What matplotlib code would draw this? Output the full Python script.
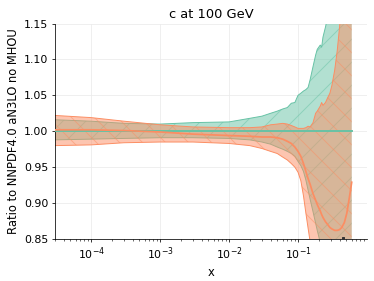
import numpy as np
import matplotlib.pyplot as plt

# x grid and ratio values
xgrid = [3e-5, 1e-4, 3e-4, 1e-3, 3e-3, 1e-2, 0.02, 0.03, 0.04, 0.05,
         0.06, 0.07, 0.08, 0.09, 0.1, 0.11, 0.12, 0.13, 0.14, 0.15,
         0.165, 0.18, 0.19, 0.21, 0.22, 0.23, 0.25, 0.27, 0.29, 0.31,
         0.34, 0.37, 0.4, 0.43, 0.47, 0.51, 0.56, 0.6]

# reference fit (ratio to itself)
ref_mid = [1.0, 1.0, 1.0, 1.0, 1.0, 1.0, 1.0, 1.0, 1.0, 1.0,
           1.0, 1.0, 1.0, 1.0, 1.0, 1.0, 1.0, 1.0, 1.0, 1.0,
           1.0, 1.0, 1.0, 1.0, 1.0, 1.0, 1.0, 1.0, 1.0, 1.0,
           1.0, 1.0, 1.0, 1.0, 1.0, 1.0, 1.0, 1.0]
ref_hi = [1.016, 1.014, 1.011, 1.010, 1.012, 1.013, 1.018, 1.021, 1.025, 1.028,
          1.031, 1.033, 1.039, 1.040, 1.050, 1.053, 1.056, 1.058, 1.061, 1.072,
          1.090, 1.106, 1.114, 1.120, 1.117, 1.131, 1.145, 1.16, 1.18, 1.20,
          1.22, 1.25, 1.28, 1.30, 1.32, 1.35, 1.38, 1.40]
ref_lo = [0.988, 0.989, 0.990, 0.991, 0.991, 0.990, 0.988, 0.985, 0.982, 0.978,
          0.975, 0.972, 0.969, 0.965, 0.958, 0.952, 0.944, 0.932, 0.918, 0.905,
          0.888, 0.872, 0.862, 0.845, 0.835, 0.825, 0.81, 0.79, 0.77, 0.75,
          0.72, 0.70, 0.68, 0.66, 0.64, 0.62, 0.60, 0.58]

# second fit
fit_mid = [1.002, 1.002, 1.001, 0.999, 0.996, 0.994, 0.993, 0.992, 0.992, 0.991,
           0.989, 0.986, 0.983, 0.978, 0.972, 0.965, 0.955, 0.944, 0.934, 0.926,
           0.913, 0.904, 0.898, 0.889, 0.884, 0.880, 0.874, 0.870, 0.866, 0.864,
           0.862, 0.862, 0.863, 0.866, 0.873, 0.886, 0.910, 0.929]
fit_hi = [1.022, 1.019, 1.014, 1.009, 1.006, 1.005, 1.005, 1.006, 1.009, 1.010,
          1.011, 1.010, 1.008, 1.006, 1.004, 1.004, 1.004, 1.005, 1.007, 1.006,
          1.012, 1.025, 1.028, 1.035, 1.040, 1.036, 1.040, 1.047, 1.053, 1.064,
          1.085, 1.112, 1.145, 1.18, 1.22, 1.26, 1.30, 1.33]
fit_lo = [0.980, 0.981, 0.984, 0.985, 0.985, 0.983, 0.980, 0.976, 0.972, 0.969,
          0.964, 0.960, 0.955, 0.950, 0.943, 0.931, 0.910, 0.886, 0.865, 0.846,
          0.82, 0.79, 0.77, 0.74, 0.72, 0.70, 0.67, 0.64, 0.62, 0.60,
          0.58, 0.57, 0.56, 0.56, 0.57, 0.58, 0.60, 0.62]

dot_x = [0.45]
dot_y = [0.852]

green = '#66c2a5'
orange = '#fc8d62'

fig = plt.figure(figsize=(374 / 69, 281 / 69), dpi=69)
ax = fig.add_axes([55 / 374, 1 - 239 / 281, 312 / 374, 215.5 / 281])

# bands
ax.fill_between(xgrid, ref_lo, ref_hi, color=green, alpha=0.5, hatch='/', lw=0, zorder=1)
ax.plot(xgrid, ref_hi, color=green, lw=1, zorder=1)
ax.plot(xgrid, ref_lo, color=green, lw=1, zorder=1)
ax.fill_between(xgrid, fit_lo, fit_hi, color=orange, alpha=0.5, hatch='\\', lw=0, zorder=2)
ax.plot(xgrid, fit_hi, color=orange, lw=1, zorder=2)
ax.plot(xgrid, fit_lo, color=orange, lw=1, zorder=2)

# central values
ax.plot(xgrid, ref_mid, color=green, lw=2, zorder=3)
ax.plot(xgrid, fit_mid, color=orange, lw=1.8, zorder=3)
ax.plot(dot_x, dot_y, 's', color='#333333', ms=2.5, zorder=4)

ax.set_xscale('log')
ax.set_xlim(3e-5, 1)
ax.set_ylim(0.85, 1.15)
ax.set_yticks([0.85, 0.90, 0.95, 1.00, 1.05, 1.10, 1.15])
ax.set_xticks([1e-4, 1e-3, 1e-2, 1e-1])
ax.grid(True, color='#ebebeb', lw=0.8, zorder=0)
ax.set_axisbelow(True)
for s in ['top', 'right']:
    ax.spines[s].set_visible(False)
ax.tick_params(labelsize=11.5)
ax.set_xlabel('x', fontsize=12)
ax.set_ylabel('Ratio to NNPDF4.0 aN3LO no MHOU', fontsize=12)
ax.set_title('c at 100 GeV', fontsize=13.5)

fig.savefig('out.png', dpi=69)
